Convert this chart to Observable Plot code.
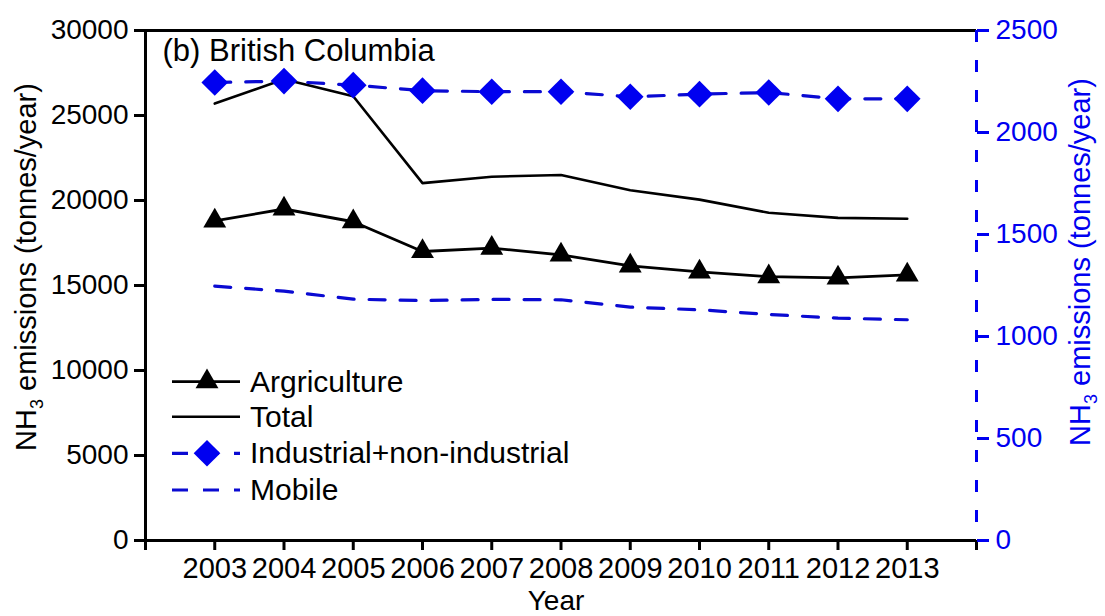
<!DOCTYPE html>
<html>
<head>
<meta charset="utf-8">
<script src="https://cdn.jsdelivr.net/npm/d3@7"></script>
<script src="https://cdn.jsdelivr.net/npm/@observablehq/plot@0.6"></script>
<style>
  html, body { margin: 0; padding: 0; background: #fff; }
  #chart { position: relative; width: 1105px; height: 616px; overflow: hidden; }
  svg { font-family: "Liberation Sans", Arial, sans-serif; }
</style>
</head>
<body>
<div id="chart"></div>
<script>
// ---- data ----
const years = [2003, 2004, 2005, 2006, 2007, 2008, 2009, 2010, 2011, 2012, 2013];
const agriculture = [18800, 19500, 18750, 17000, 17200, 16800, 16150, 15800, 15520, 15450, 15620];
const total = [25700, 27130, 26130, 21020, 21400, 21500, 20600, 20050, 19280, 18980, 18930];
const industrial = [2245, 2252, 2232, 2205, 2200, 2200, 2175, 2188, 2196, 2165, 2165]; // right axis
const mobile = [1247, 1222, 1183, 1176, 1182, 1180, 1144, 1131, 1108, 1090, 1082];     // right axis
const seriesNames = ["Argriculture", "Total", "Industrial+non-industrial", "Mobile"];
const xTicks = [2002, 2003, 2004, 2005, 2006, 2007, 2008, 2009, 2010, 2011, 2012, 2013, 2014];
const xTickLabels = ["", "2003", "2004", "2005", "2006", "2007", "2008", "2009", "2010", "2011", "2012", "2013", ""];
const yTicks = [0, 5000, 10000, 15000, 20000, 25000, 30000];
const yRightTicks = [0, 500, 1000, 1500, 2000, 2500];
const yDomain = [0, 30000];
const yRightDomain = [0, 2500];
const xDomain = [2002, 2014];
const titleText = "(b) British Columbia";

// ---- build ----
const ratio = yDomain[1] / yRightDomain[1];
const rows = years.map((year, i) => ({
  year, agriculture: agriculture[i], total: total[i],
  industrial: industrial[i], mobile: mobile[i]
}));
const BLUE = "#0000f0";
const LINEBLUE = "#0a0ad2";
const FONT = "Liberation Sans, Arial, sans-serif";

const plot = Plot.plot({
  width: 1105,
  height: 616,
  marginLeft: 145,
  marginRight: 129,
  marginTop: 30,
  marginBottom: 76,
  style: { fontFamily: FONT, fontSize: "28px", background: "white", color: "black" },
  x: { domain: xDomain, label: null },
  y: { domain: yDomain, label: null },
  marks: [
    Plot.axisX({ ticks: xTicks, tickFormat: d => xTickLabels[xTicks.indexOf(d)], tickSize: 10, tickPadding: 7, strokeWidth: 3, fontSize: 29, label: null }),
    Plot.axisY({ anchor: "left", ticks: yTicks, tickFormat: d => String(d), tickSize: 11, tickPadding: 6, strokeWidth: 3, fontSize: 28, label: null }),
    Plot.axisY({ anchor: "right", ticks: yRightTicks.map(v => v * ratio), tickFormat: d => String(Math.round(d / ratio)), tickSize: 12, tickPadding: 7, strokeWidth: 3, stroke: BLUE, fill: BLUE, fontSize: 28, label: null }),
    Plot.ruleY([yDomain[1]], { stroke: "black", strokeWidth: 3 }),
    Plot.ruleY([yDomain[0]], { stroke: "black", strokeWidth: 3 }),
    Plot.ruleX([xDomain[0]], { stroke: "black", strokeWidth: 3 }),
    Plot.ruleX([xDomain[1]], { stroke: BLUE, strokeWidth: 3, strokeDasharray: "12,18" }),
    Plot.line(rows, { x: "year", y: "total", stroke: "black", strokeWidth: 2.6 }),
    Plot.line(rows, { x: "year", y: "agriculture", stroke: "black", strokeWidth: 2.8 }),
    Plot.dot(rows, { x: "year", y: "agriculture", symbol: "triangle", r: 8.5, fill: "black", stroke: "none" }),
    Plot.line(rows, { x: "year", y: d => d.mobile * ratio, stroke: LINEBLUE, strokeWidth: 3.2, strokeDasharray: "16,15" }),
    Plot.line(rows, { x: "year", y: d => d.industrial * ratio, stroke: LINEBLUE, strokeWidth: 3.2, strokeDasharray: "16,15" }),
    Plot.dot(rows, { x: "year", y: d => d.industrial * ratio, symbol: "diamond2", r: 12, fill: BLUE, stroke: "none" }),
    Plot.text([titleText], { frameAnchor: "top-left", text: d => d, dx: 17, dy: 8, lineAnchor: "top", textAnchor: "start", fontSize: 31, fill: "black" })
  ]
});

document.getElementById("chart").appendChild(plot);

// ---- axis titles and legend (layout overlays) ----
const svg = d3.select(plot.tagName.toLowerCase() === "svg" ? plot : plot.querySelector("svg"));

function nh3Label(g, x, y, color) {
  const t = g.append("text")
    .attr("transform", `translate(${x},${y}) rotate(-90)`)
    .attr("text-anchor", "middle")
    .attr("font-family", FONT)
    .attr("font-size", 29)
    .attr("fill", color);
  t.append("tspan").text("NH");
  t.append("tspan").attr("font-size", 18).attr("dy", 7).text("3");
  t.append("tspan").attr("dy", -7).text(" emissions (tonnes/year)");
}
nh3Label(svg, 36, 267, "black");
nh3Label(svg, 1090, 262, BLUE);

svg.append("text")
  .attr("x", 556).attr("y", 610)
  .attr("text-anchor", "middle")
  .attr("font-family", FONT).attr("font-size", 28)
  .attr("fill", "black")
  .text("Year");

// Legend
const leg = svg.append("g").attr("text-anchor", "start");
const legY = [381.7, 416.7, 453.3, 490];
const x0 = 172, x1 = 240, xm = 207, xt = 250;
const styles = [
  { stroke: "black", dash: null, sym: d3.symbolTriangle, size: 8.5 * 8.5 * Math.PI, fill: "black", w: 2.8 },
  { stroke: "black", dash: null, sym: null, w: 2.6 },
  { stroke: LINEBLUE, dash: "16,15", sym: d3.symbolDiamond2, size: 12 * 12 * Math.PI, fill: BLUE, w: 3.2 },
  { stroke: LINEBLUE, dash: "16,15", sym: null, w: 3.2 }
];
seriesNames.forEach((name, i) => {
  const s = styles[i];
  leg.append("line")
    .attr("x1", x0).attr("x2", x1).attr("y1", legY[i]).attr("y2", legY[i])
    .attr("stroke", s.stroke).attr("stroke-width", s.w)
    .attr("stroke-dasharray", s.dash);
  if (s.sym) {
    leg.append("path")
      .attr("transform", `translate(${xm},${legY[i]})`)
      .attr("d", d3.symbol(s.sym, s.size)())
      .attr("fill", s.fill);
  }
  leg.append("text")
    .attr("x", xt).attr("y", legY[i] + 10)
    .attr("text-anchor", "start")
    .attr("font-family", FONT).attr("font-size", 30)
    .attr("fill", "black")
    .text(name);
});
</script>
</body>
</html>
